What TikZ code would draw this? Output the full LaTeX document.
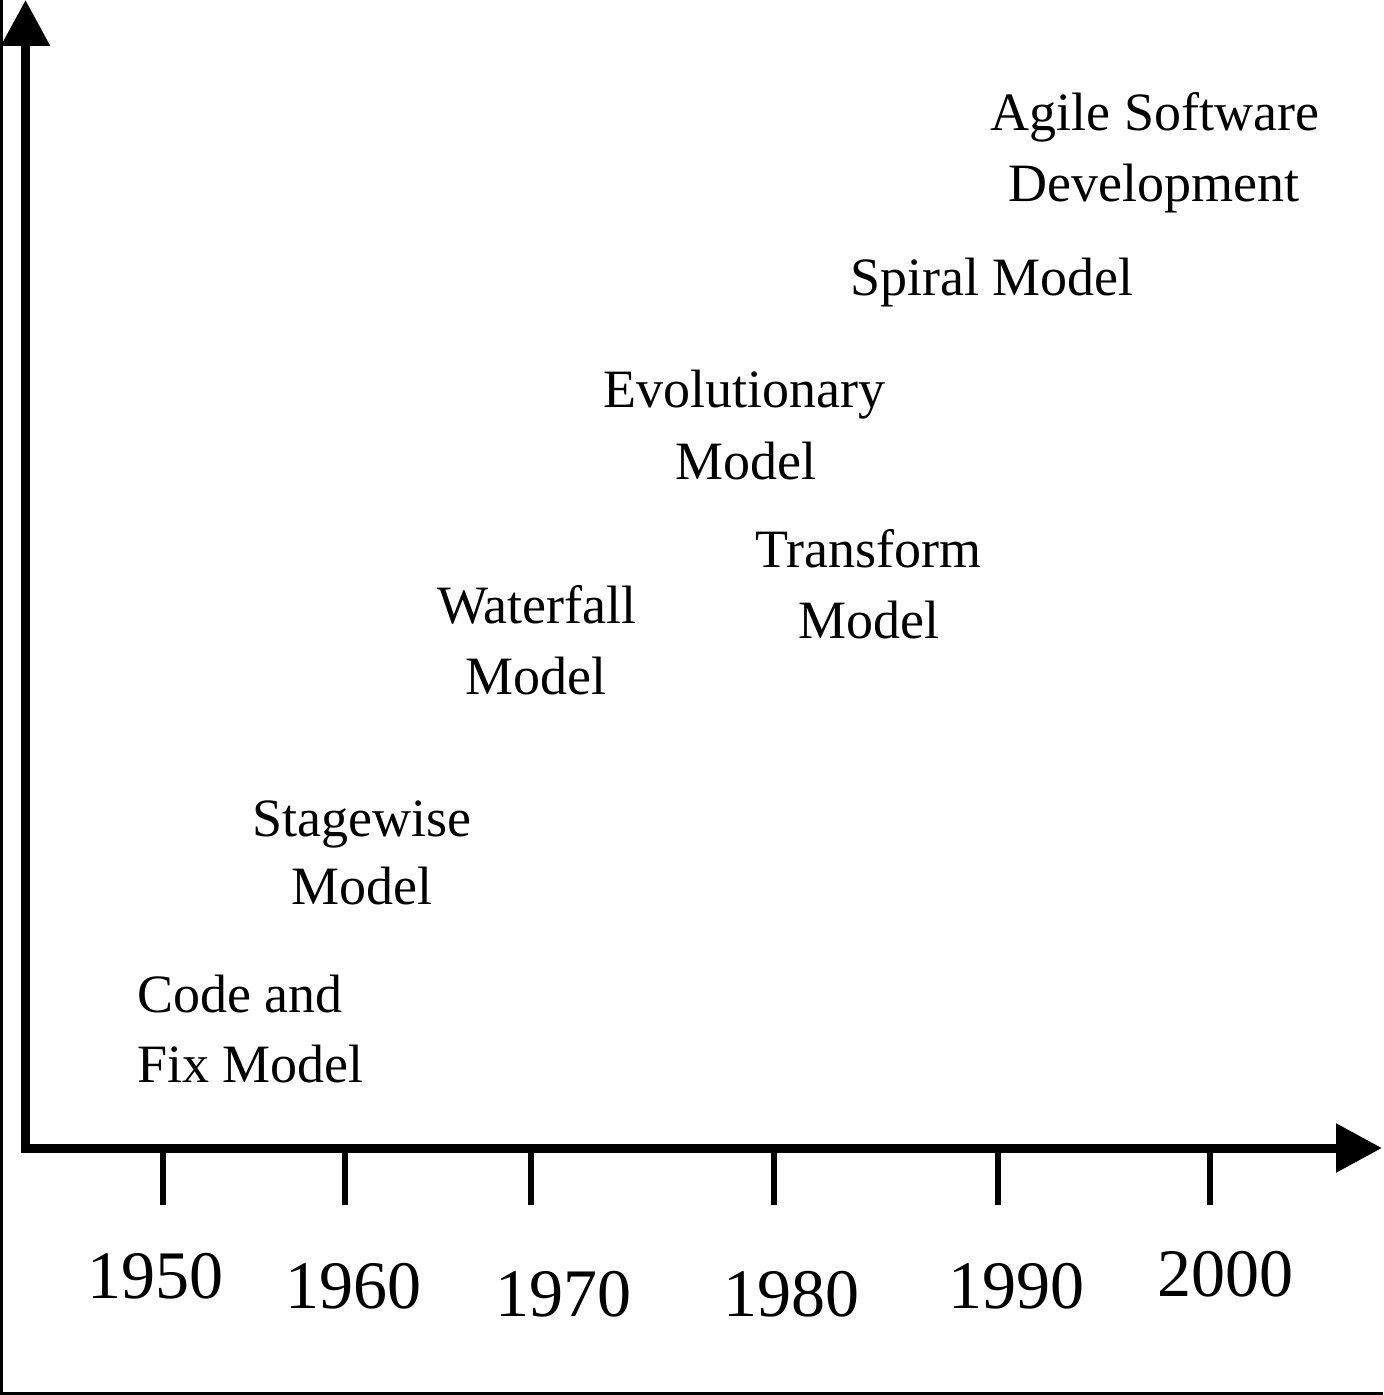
\documentclass[tikz,border=0pt]{standalone}
\usepackage{fontspec}
\setmainfont{Liberation Serif}
\usetikzlibrary{arrows.meta}

\tikzset{
  axisline/.style={line width=4.5pt, line join=miter,
    {Triangle[length=23pt,width=23.5pt]}-{Triangle[length=23pt,width=23.5pt]}},
  tickline/.style={line width=3pt},
  frameline/.style={line width=1.5pt},
  modeltext/.style={anchor=base, inner sep=0pt, font=\fontsize{27pt}{36pt}\selectfont},
  modelleft/.style={modeltext, anchor=base west},
  yeartext/.style={anchor=base, inner sep=0pt, font=\fontsize{34pt}{40pt}\selectfont},
}

\begin{document}
\begin{tikzpicture}[x=0.5pt, y=-0.5pt]
  % canvas
  \fill[white] (0,0) rectangle (1383,1395);
  \useasboundingbox (0,0) rectangle (1383,1395);

  % frame on the left and bottom edges
  \draw[frameline] (1.5,0) -- (1.5,1393.5) -- (1383,1393.5);

  % axes
  \coordinate (ytop) at (25.5,0);
  \coordinate (origin) at (25.5,1148);
  \coordinate (xend) at (1382,1148);
  \draw[axisline] (ytop) -- (origin) -- (xend);

  % ticks
  \foreach \name/\xx in {1950/163, 1960/345, 1970/531,
                         1980/774, 1990/998, 2000/1210} {
    \coordinate (t\name) at (\xx,1148);
    \coordinate (tb\name) at (\xx,1205);
    \draw[tickline] (t\name) -- (tb\name);
  }

  % years
  \node[yeartext] (y1950) at (155,1298) {1950};
  \node[yeartext] (y1960) at (353,1308) {1960};
  \node[yeartext] (y1970) at (563,1316) {1970};
  \node[yeartext] (y1980) at (791,1316) {1980};
  \node[yeartext] (y1990) at (1016,1308) {1990};
  \node[yeartext] (y2000) at (1225,1296) {2000};

  % process models
  \node[modelleft] (codefixA) at (137,1012) {Code and};
  \node[modelleft] (codefixB) at (137,1082) {Fix Model};

  \node[modeltext] (stageA) at (362,836) {Stagewise};
  \node[modeltext] (stageB) at (362,904) {Model};

  \node[modeltext] (waterA) at (537,623) {Waterfall};
  \node[modeltext] (waterB) at (536,694) {Model};

  \node[modeltext] (evoA) at (744,408) {Evolutionary};
  \node[modeltext] (evoB) at (746,479) {Model};

  \node[modeltext] (transA) at (868,567) {Transform};
  \node[modeltext] (transB) at (869,638) {Model};

  \node[modeltext] (spiral) at (992,296) {Spiral Model};

  \node[modeltext] (agileA) at (1155,131) {Agile Software};
  \node[modeltext] (agileB) at (1154,202) {Development};
\end{tikzpicture}
\end{document}
